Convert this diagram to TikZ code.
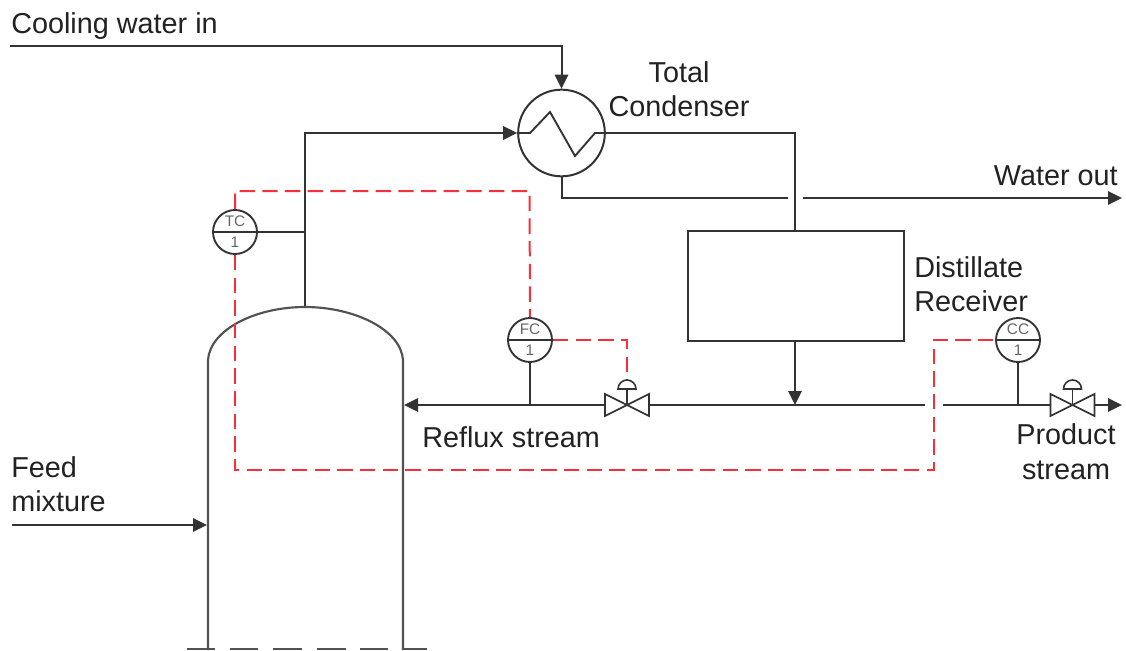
\documentclass[tikz,border=0pt]{standalone}
\usepackage{fontspec}
\setmainfont{Liberation Sans}
\usetikzlibrary{arrows.meta,calc}
\definecolor{ln}{HTML}{333333}
\definecolor{ctl}{HTML}{F5303A}
\definecolor{tx}{HTML}{222222}
\tikzset{
  x=0.75pt,y=-0.75pt,
  pipe/.style={draw=ln,line width=1.5pt},
  flow/.style={pipe,-{Triangle[length=10.5pt,width=10pt]}},
  signal/.style={draw=ctl,line width=1.5pt,dash pattern=on 11.5pt off 5.5pt},
  inst/.style={circle,draw=ln,line width=1.4pt,inner sep=0pt,minimum size=33pt,fill=white},
  insttext/.style={font=\fontsize{11.5}{12}\selectfont,text=black!60,inner sep=0pt},
  lab/.style={font=\fontsize{21.6}{26}\selectfont,text=tx,inner sep=0pt,align=left},
  labc/.style={lab,align=center},
  valvebody/.style={draw=ln,line width=1.3pt,fill=white,line join=miter},
  vessel/.style={draw=ln!85,line width=1.6pt},
}
\begin{document}
\begin{tikzpicture}
\useasboundingbox (0,0) rectangle (1126,650);
\fill[white] (0,0) rectangle (1126,650);
\begin{scope}
\clip (0,0) rectangle (1126,650);

% equipment nodes
\node[inst,minimum size=65pt,line width=1.5pt,fill=none] (cond) at (561.5,133) {};
\node[draw=ln,line width=1.5pt,minimum width=162pt,minimum height=82.5pt,inner sep=0pt] (recv) at (796,286) {};
\node[inst] (tc) at (235,232) {};
\node[inst] (fc) at (530,340) {};
\node[inst] (cc) at (1018,340) {};

% key positions
\coordinate (cwin) at (10,46);
\coordinate (cwbend) at (561.5,46);
\coordinate (feedin) at (12,525);
\coordinate (coltop) at (305,307);
\coordinate (colTopBend) at (305,133);
\coordinate (tctap) at (305,232);
\coordinate (condOutBend) at (795,133);
\coordinate (wbend) at (561.5,198);
\coordinate (wgapL) at (788,198);
\coordinate (wgapR) at (803,198);
\coordinate (wout) at (1122,198);
\coordinate (recvIn) at (795,231);
\coordinate (recvOut) at (795,341);
\coordinate (join) at (795,405);
\coordinate (gapL) at (925,405);
\coordinate (gapR) at (943,405);
\coordinate (prod) at (1122,405);
\coordinate (reflux) at (404,405);
\coordinate (fctap) at (530,405);
\coordinate (cctap) at (1018,405);
\coordinate (feedhit) at (207,525);
\coordinate (v1) at (627,405);
\coordinate (v2) at (1072.5,405);
\coordinate (v1l) at (605,405);
\coordinate (v1r) at (649,405);
\coordinate (v2l) at (1050.5,405);
\coordinate (v2r) at (1094.5,405);
\coordinate (fcBend) at (627,340);
\coordinate (v1top) at (627,383);
\coordinate (tcUp) at (235,191);
\coordinate (fcUp) at (529.5,191);
\coordinate (tcDown) at (235,470);
\coordinate (ccDown) at (934,470);
\coordinate (ccLeft) at (934,340);

% process lines
\draw[flow] (cwin) -- (cwbend) -- (cond.north);
\draw[flow] (coltop) -- (colTopBend) -- (cond.west);
\draw[pipe] (cond.east) -- (condOutBend) -- (recvIn);
\draw[pipe] (cond.south) -- (wbend) -- (wgapL);
\draw[flow] (wgapR) -- (wout);
\draw[flow] (recvOut) -- (join);
\draw[flow] (v1l) -- (reflux);
\draw[pipe] (v1r) -- (gapL);
\draw[pipe] (gapR) -- (v2l);
\draw[flow] (v2r) -- (prod);
\draw[flow] (feedin) -- (feedhit);

% column
\draw[vessel] (208,650) -- (208,360)
  .. controls (210,330) and (255,307) .. (coltop)
  .. controls (355,307) and (401,330) .. (403,360) -- (403,650);
\foreach \a/\b in {187/215,230/258,273/302,317/346,360/388,403/427}
  \draw[vessel] (\a,649) -- (\b,649);

% condenser coil
\draw[draw=ln,line width=1.4pt,line join=miter] (cond.west) -- (530,133) -- (550,112) -- (575,156) -- (595,133) -- (cond.east);

% instrument taps
\draw[draw=ln,line width=1.4pt] (tc.west) -- (tctap);
\draw[pipe] (fc.south) -- (fctap);
\draw[pipe] (cc.south) -- (cctap);
\draw[draw=ln,line width=1.4pt] (fc.west) -- (fc.east);
\draw[draw=ln,line width=1.4pt] (cc.west) -- (cc.east);
\node[insttext] (tct) at (235,221) {TC};
\node[insttext] (tcn) at (235,242) {1};
\node[insttext] (fct) at (530,329.5) {FC};
\node[insttext] (fcn) at (530,350.5) {1};
\node[insttext] (cct) at (1018,329.5) {CC};
\node[insttext] (ccn) at (1018,350.5) {1};

% control signals
\draw[signal] (tc.north) -- (tcUp) -- (fcUp) -- (fc.north);
\draw[signal] (fc.east) -- (fcBend) -- (v1top);
\draw[signal] (tc.south) -- (tcDown) -- (ccDown) -- (ccLeft) -- (cc.west);

% valves
\foreach \v in {v1,v2}{
  \draw[valvebody] ([shift={(-22,-11)}]\v) -- ([shift={(22,11)}]\v) -- ([shift={(22,-11)}]\v) -- ([shift={(-22,11)}]\v) -- cycle;
  \draw[draw=ln,line width=1.3pt] (\v) -- ([shift={(0,-16)}]\v);
  \draw[draw=ln,line width=1.2pt,fill=white] ([shift={(-9,-16)}]\v) arc[start angle=180,end angle=0,radius=6.75pt] -- cycle;
}

% labels
\node[lab,anchor=base west] (l1) at (11,33) {Cooling water in};
\node[labc,anchor=base] (l2a) at (679,82) {Total};
\node[labc,anchor=base] (l2b) at (679,116) {Condenser};
\node[lab,anchor=base east] (l3) at (1118,185) {Water out};
\node[lab,anchor=base west] (l4a) at (914,277) {Distillate};
\node[lab,anchor=base west] (l4b) at (914,311) {Receiver};
\node[lab,anchor=base west] (l5) at (422,447) {Reflux stream};
\node[labc,anchor=base] (l6a) at (1066,444) {Product};
\node[labc,anchor=base] (l6b) at (1066,479) {stream};
\node[lab,anchor=base west] (l7a) at (11,477) {Feed};
\node[lab,anchor=base west] (l7b) at (11,511) {mixture};
\end{scope}
\end{tikzpicture}
\end{document}
